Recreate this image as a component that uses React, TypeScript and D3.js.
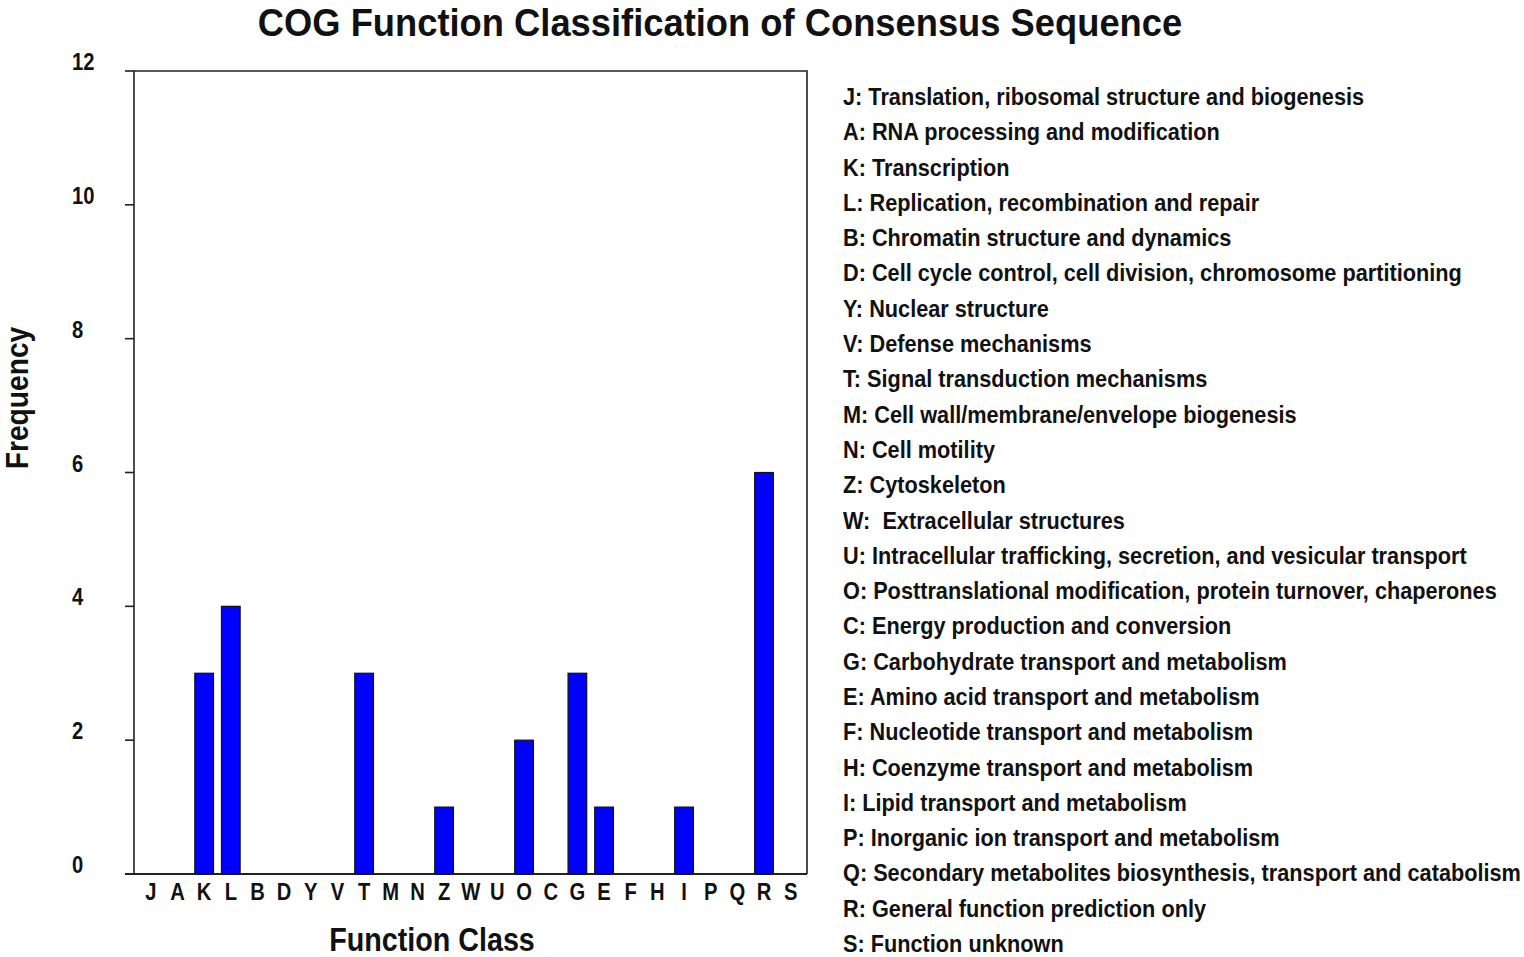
import React from 'react';
import * as d3 from 'd3';

const categories = ['J', 'A', 'K', 'L', 'B', 'D', 'Y', 'V', 'T', 'M', 'N', 'Z', 'W', 'U', 'O', 'C', 'G', 'E', 'F', 'H', 'I', 'P', 'Q', 'R', 'S'];
const frequencies = [0, 0, 3, 4, 0, 0, 0, 0, 3, 0, 0, 1, 0, 0, 2, 0, 3, 1, 0, 0, 1, 0, 0, 6, 0];
const yTicks = [0, 2, 4, 6, 8, 10, 12];
const legendLabels = [
    'J: Translation, ribosomal structure and biogenesis',
    'A: RNA processing and modification',
    'K: Transcription',
    'L: Replication, recombination and repair',
    'B: Chromatin structure and dynamics',
    'D: Cell cycle control, cell division, chromosome partitioning',
    'Y: Nuclear structure',
    'V: Defense mechanisms',
    'T: Signal transduction mechanisms',
    'M: Cell wall/membrane/envelope biogenesis',
    'N: Cell motility',
    'Z: Cytoskeleton',
    'W:  Extracellular structures',
    'U: Intracellular trafficking, secretion, and vesicular transport',
    'O: Posttranslational modification, protein turnover, chaperones',
    'C: Energy production and conversion',
    'G: Carbohydrate transport and metabolism',
    'E: Amino acid transport and metabolism',
    'F: Nucleotide transport and metabolism',
    'H: Coenzyme transport and metabolism',
    'I: Lipid transport and metabolism',
    'P: Inorganic ion transport and metabolism',
    'Q: Secondary metabolites biosynthesis, transport and catabolism',
    'R: General function prediction only',
    'S: Function unknown',
];

const font = '"Liberation Sans", Arial, sans-serif';

// the original uses a narrow bold face, so squeeze text horizontally
const Narrow: React.FC<{ x: number, y: number, size: number, sx?: number, anchor?: string, rotate?: number, children: React.ReactNode }> =
    ({ x, y, size, sx = 0.88, anchor = 'start', rotate = 0, children }) => (
        <text transform={`translate(${x},${y}) rotate(${rotate}) scale(${sx},1)`} textAnchor={anchor}
            fontSize={size} style={{ whiteSpace: 'pre' }}>{children}</text>
    );

const App: React.FC = () => {
    const width = 1524;
    const height = 957;
    const plotLeft = 134;
    const plotRight = 807;
    const plotTop = 71;
    const plotBottom = 874;

    const x = d3.scaleBand<string>().domain(categories)
        .range([137.5, 804]).paddingInner(0.3).paddingOuter(0.15);
    const y = d3.scaleLinear().domain([0, 12]).range([plotBottom, plotTop]);
    const legendY = d3.scalePoint<number>().domain(d3.range(legendLabels.length))
        .range([105, 952]);

    return (
        <svg width={width} height={height} style={{ position: 'absolute', left: 0, top: 0 }}
            fontFamily={font} fontWeight="bold" fill="#111">
            <Narrow x={720} y={36} size={39.5} sx={0.92} anchor="middle">COG Function Classification of Consensus Sequence</Narrow>
            {/* frame */}
            <path d={`M${plotLeft},${plotBottom}V${plotTop}H${plotRight}V${plotBottom}`} fill="none" stroke="#222" strokeWidth={1.6} />
            <line x1={125} x2={plotRight} y1={plotBottom} y2={plotBottom} stroke="#222" strokeWidth={2} />
            {yTicks.map(t => (
                <g key={t}>
                    <line x1={125} x2={plotLeft} y1={y(t)} y2={y(t)} stroke="#222" strokeWidth={1.6} />
                    <Narrow x={72} y={y(t) - 1} size={23.5} sx={0.86}>{t}</Narrow>
                </g>
            ))}
            {categories.map((c, i) => (
                <g key={c}>
                    {frequencies[i] > 0 && (
                        <rect x={x(c)} y={y(frequencies[i])} width={x.bandwidth()}
                            height={plotBottom - y(frequencies[i])} fill="#0000ff" stroke="#111" strokeWidth={1.2} />
                    )}
                    <Narrow x={(x(c) ?? 0) + x.bandwidth() / 2} y={900} size={23.5} sx={0.86} anchor="middle">{c}</Narrow>
                </g>
            ))}
            <Narrow x={432} y={951} size={33} sx={0.87} anchor="middle">Function Class</Narrow>
            <Narrow x={28} y={398} size={31} sx={0.91} anchor="middle" rotate={-90}>Frequency</Narrow>
            {legendLabels.map((l, i) => (
                <Narrow key={i} x={843} y={legendY(i)!} size={24} sx={0.905}>{l}</Narrow>
            ))}
        </svg>
    );
};

export default App;
